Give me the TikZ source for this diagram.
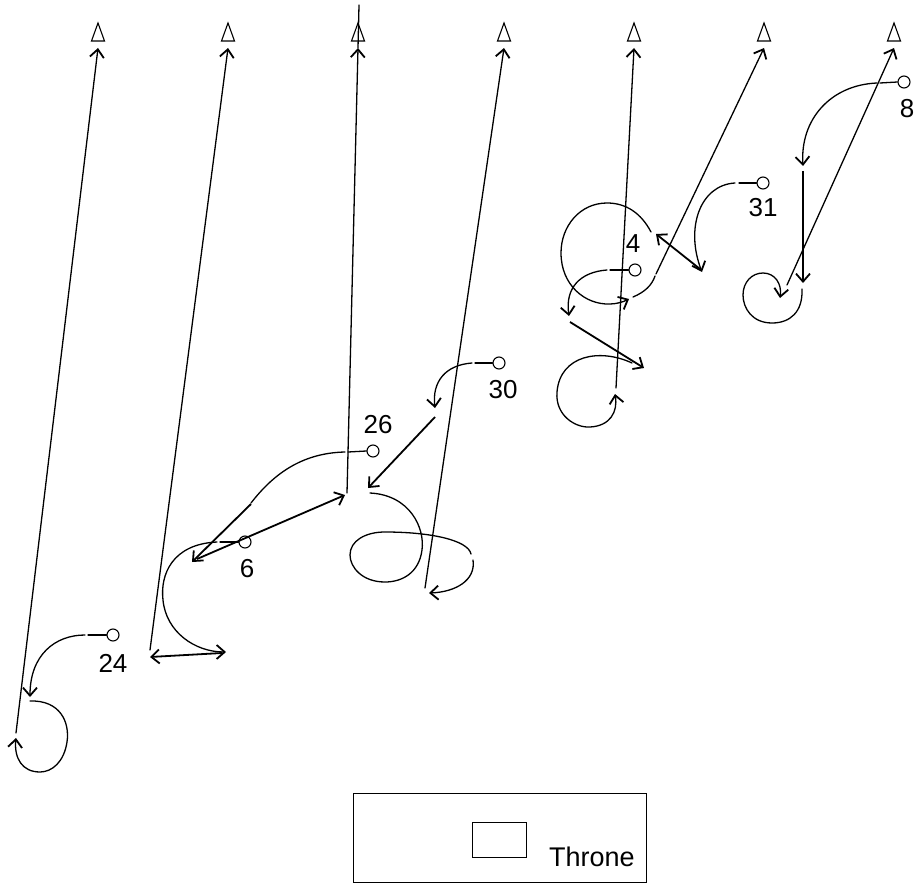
\documentclass[tikz,border=0pt]{standalone}
\usepackage{fontspec}
\setmainfont{Liberation Sans}
\usetikzlibrary{arrows.meta,calc}
\tikzset{
 route/.style={line width=1.3pt, line cap=round},
 seg/.style={line width=1.8pt},
 arr/.style={-{Straight Barb[length=8pt,width=14pt,line width=1.8pt]}},
 player/.style={circle, draw, line width=1.1pt, minimum size=12pt, inner sep=0pt},
 num/.style={font=\fontsize{26}{26}\selectfont, inner sep=0pt},
 goal/.pic={\draw[line width=1.1pt, line join=miter] (0,-9) -- (6.5,9) -- (-6.5,9) -- cycle;}
}
\begin{document}
\begin{tikzpicture}[x=1pt,y=-1pt]
\fill[white] (0,0) rectangle (917,885);
\useasboundingbox (0,0) rectangle (917,885);
% goals
\foreach \i/\x in {1/98,2/228,3/358,4/504,5/634,6/764,7/894}{
  \coordinate (g\i) at (\x,32);
  \coordinate (t\i) at (\x,48);
  \pic at (g\i) {goal};
}
% player 24
\node[player] (p24) at (113,635) {};
\node[num] (l24) at (113,663) {24};
\draw[route] (p24.west) -- (88,635);
\draw[route,arr] (85,635) .. controls (55,635) and (30,655) .. (30,697);
\draw[route,arr] (30,701) .. controls (60,700) and (70,722) .. (67,742) .. controls (64,762) and (52,772) .. (40,772) .. controls (22,772) and (14,758) .. (16,738);
\draw[route,arr] (16,733) -- (t1);
% player 6
\node[player] (p6) at (245,542) {};
\node[num] (l6) at (247,569) {6};
\draw[route] (p6.west) -- (220,542);
\draw[route,arr] (217,542) .. controls (172,544) and (160,575) .. (163,600) .. controls (166,632) and (195,652) .. (226,652);
\draw[seg,arr] (222,653) -- (150,657);
\draw[route,arr] (150,650) -- (t2);
% player 26
\node[player] (p26) at (373,451) {};
\node[num] (l26) at (378,425) {26};
\draw[route] (p26.west) -- (348,452);
\draw[route] (345,452) .. controls (300,453) and (272,476) .. (251,503);
\draw[seg,arr] (251,504) -- (192,562);
\draw[seg,arr] (197,559) -- (345,495);
\draw[route,arr] (347,493) -- (t3);
\draw[route] (t3) -- (359,5);
% player 30
\node[player] (p30) at (499,363) {};
\node[num] (l30) at (503,390) {30};
\draw[route] (p30.west) -- (475,363);
\draw[route,arr] (472,363) .. controls (445,365) and (432,382) .. (435,408);
\draw[seg,arr] (435,417) -- (368,488);
\draw[route] (370,493) .. controls (410,495) and (425,528) .. (422,550) .. controls (419,573) and (402,582) .. (385,582) .. controls (362,582) and (350,567) .. (350,555) .. controls (350,541) and (365,532) .. (385,532) .. controls (430,532) and (468,540) .. (471,554);
\draw[route,arr] (473,560) .. controls (476,580) and (456,592) .. (429,593);
\draw[route,arr] (425,588) -- (t4);
% player 4
\node[player] (p4) at (635,270) {};
\node[num] (l4) at (633,244) {4};
\draw[route] (p4.west) -- (610,270);
\draw[route,arr] (607,270) .. controls (580,272) and (565,288) .. (569,316);
\draw[seg,arr] (570,322) -- (644,368);
\draw[route,arr] (632,363) .. controls (600,348) and (560,355) .. (557,392) .. controls (555,415) and (575,428) .. (590,427) .. controls (610,426) and (618,412) .. (615,394);
\draw[route,arr] (616,388) -- (t5);
% player 31
\node[player] (p31) at (763,183) {};
\node[num] (l31) at (763,208) {31};
\draw[route] (p31.west) -- (739,183);
\draw[route,arr] (735,183) .. controls (700,185) and (685,228) .. (702,272);
\draw[seg,arr] (700,269) -- (656,234);
\draw[route,arr] (651,232) .. controls (641,213) and (626,203) .. (607,203) .. controls (580,203) and (561,226) .. (561,253) .. controls (561,285) and (585,305) .. (610,304) .. controls (616,304) and (623,302) .. (629,299);
\draw[route] (633,297) .. controls (645,292) and (652,285) .. (655,276);
\draw[route,arr] (656,274) -- (t6);
% player 8
\node[player] (p8) at (904,82) {};
\node[num] (l8) at (907,109) {8};
\draw[route] (p8.west) -- (880,83);
\draw[route,arr] (877,83) .. controls (830,85) and (800,120) .. (803,166);
\draw[seg,arr] (803,171) -- (803,283);
\draw[route,arr] (802,289) .. controls (803,312) and (790,323) .. (772,323) .. controls (752,323) and (743,308) .. (743,295) .. controls (743,282) and (752,273) .. (763,273) .. controls (775,273) and (782,284) .. (780,298);
\draw[route,arr] (787,285) -- (t7);
% legend
\node[draw, line width=1pt, minimum width=293pt, minimum height=89pt, inner sep=0pt, anchor=north west] (legend) at (353,793) {};
\node[draw, line width=0.8pt, minimum width=54pt, minimum height=35pt, inner sep=0pt, anchor=north west] (throne) at (472,822) {};
\node[font=\fontsize{27}{27}\selectfont, inner sep=0pt, anchor=base west] (tlabel) at (549,866) {Throne};
\end{tikzpicture}
\end{document}
